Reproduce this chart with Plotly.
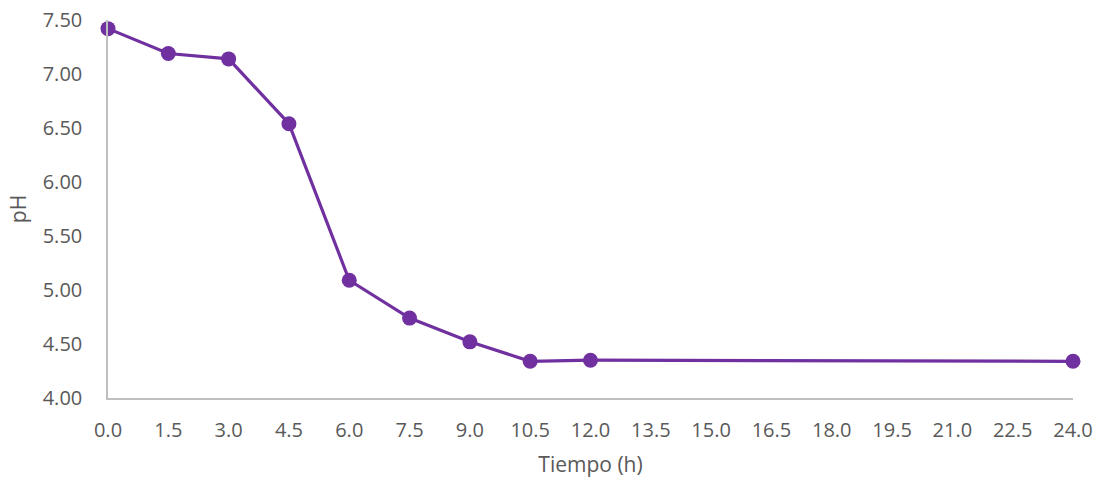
import plotly.graph_objects as go

# Sampling times (h) and measured pH
tiempo = [0.0, 1.5, 3.0, 4.5, 6.0, 7.5, 9.0, 10.5, 12.0, 24.0]
ph = [7.42, 7.19, 7.14, 6.54, 5.09, 4.74, 4.52, 4.34, 4.35, 4.34]

# Axis tick positions/labels
x_ticks = [0.0, 1.5, 3.0, 4.5, 6.0, 7.5, 9.0, 10.5, 12.0, 13.5, 15.0,
           16.5, 18.0, 19.5, 21.0, 22.5, 24.0]
x_ticklabels = [f"{v:.1f}" for v in x_ticks]
y_ticks = [4.0, 4.5, 5.0, 5.5, 6.0, 6.5, 7.0, 7.5]
y_ticklabels = [f"{v:.2f}" for v in y_ticks]

purple = "#7030A0"
text_gray = "#595959"
axis_gray = "#BFBFBF"
font_family = "Open Sans, Liberation Sans, sans-serif"

fig = go.Figure(
    go.Scatter(
        x=tiempo,
        y=ph,
        mode="lines+markers",
        line=dict(color=purple, width=3.2),
        marker=dict(color=purple, size=15),
        showlegend=False,
        cliponaxis=False,
    )
)

fig.update_layout(
    width=1097,
    height=480,
    margin=dict(l=108, r=24, t=20, b=82),
    paper_bgcolor="white",
    plot_bgcolor="white",
    font=dict(family=font_family, size=20, color=text_gray),
    xaxis=dict(
        range=[0, 24],
        tickvals=x_ticks,
        ticktext=x_ticklabels,
        showgrid=False,
        zeroline=False,
        showline=True,
        linecolor=axis_gray,
        linewidth=1.5,
        ticks="outside",
        ticklen=0,
        ticklabelstandoff=13,
        automargin=False,
        tickfont=dict(size=20, color=text_gray),
        title=dict(text="Tiempo (h)", font=dict(size=21, color=text_gray), standoff=16),
    ),
    yaxis=dict(
        range=[4, 7.5],
        tickvals=y_ticks,
        ticktext=y_ticklabels,
        showgrid=False,
        zeroline=False,
        showline=True,
        linecolor=axis_gray,
        linewidth=1.5,
        ticks="outside",
        ticklen=0,
        ticklabelstandoff=20,
        automargin=False,
        tickfont=dict(size=20, color=text_gray),
        title=dict(text="pH", font=dict(size=21, color=text_gray), standoff=10),
    ),
)

fig.write_html("out.html")
